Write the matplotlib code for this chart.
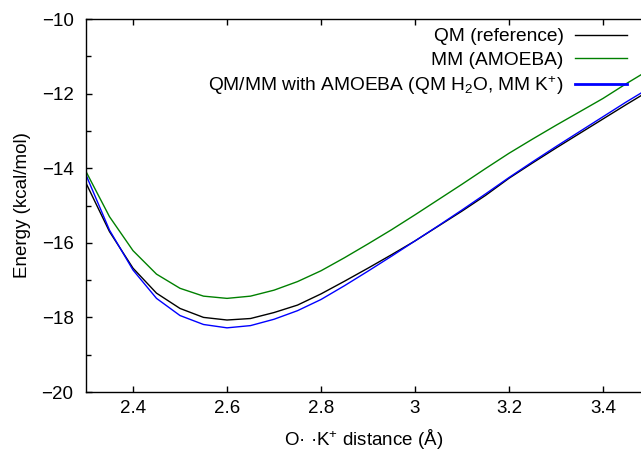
import matplotlib
matplotlib.use("Agg")
import matplotlib.pyplot as plt
from matplotlib.ticker import MultipleLocator, FuncFormatter

plt.rcParams['font.family'] = ['Liberation Sans', 'DejaVu Sans']
plt.rcParams['mathtext.fontset'] = 'custom'
plt.rcParams['mathtext.rm'] = 'Liberation Sans'
plt.rcParams['mathtext.it'] = 'Liberation Sans'
plt.rcParams['mathtext.default'] = 'regular'

distance = [2.30, 2.35, 2.40, 2.45, 2.50, 2.55, 2.60, 2.65, 2.70, 2.75, 2.80,
            2.85, 2.90, 2.95, 3.00, 3.05, 3.10, 3.15, 3.20, 3.25, 3.30, 3.35,
            3.40, 3.45, 3.50]
qm_ref = [-14.40, -15.70, -16.68, -17.35, -17.76, -18.00, -18.07, -18.03, -17.87,
          -17.67, -17.37, -17.03, -16.68, -16.32, -15.95, -15.55, -15.15, -14.73,
          -14.27, -13.86, -13.46, -13.07, -12.68, -12.29, -11.91]
mm_amoeba = [-14.09, -15.30, -16.21, -16.84, -17.22, -17.43, -17.49, -17.43, -17.27,
             -17.04, -16.75, -16.40, -16.03, -15.65, -15.25, -14.84, -14.43, -14.01,
             -13.60, -13.22, -12.85, -12.49, -12.13, -11.73, -11.35]
qmmm = [-14.18, -15.66, -16.73, -17.49, -17.95, -18.19, -18.28, -18.22, -18.05,
        -17.82, -17.52, -17.15, -16.76, -16.36, -15.95, -15.54, -15.12, -14.69,
        -14.25, -13.83, -13.42, -13.02, -12.62, -12.22, -11.84]

labels = ["QM (reference)", "MM (AMOEBA)",
          "QM/MM with AMOEBA (QM H$_2$O, MM K$^{+}$)"]
colors = ["#000000", "#008000", "#0000ff"]

FS = 13.5
W, H = 641, 450
fig = plt.figure(figsize=(W / 100, H / 100), dpi=100)
ax = fig.add_axes([86 / W, 58 / H, (650 - 86) / W, 373 / H])

for y, lab, c in zip([qm_ref, mm_amoeba, qmmm], labels, colors):
    ax.plot(distance, y, color=c, lw=1.0, label=lab)

ax.set_xlim(2.3, 3.5)
ax.set_ylim(-20, -10)
ax.xaxis.set_major_locator(MultipleLocator(0.2))
ax.yaxis.set_major_locator(MultipleLocator(2))
ax.yaxis.set_minor_locator(MultipleLocator(1))
ax.xaxis.set_major_formatter(FuncFormatter(lambda v, p: f"{v:g}"))
ax.yaxis.set_major_formatter(FuncFormatter(lambda v, p: f"{v:g}".replace("-", "\u2212")))
ax.tick_params(which='both', direction='in', top=True, right=True,
               labelsize=FS, width=1.0)
ax.tick_params(which='major', length=4.5)
ax.tick_params(which='minor', length=3.5)
ax.tick_params(axis='x', pad=6)
ax.tick_params(axis='y', pad=9)
for s in ax.spines.values():
    s.set_linewidth(1.0)

ax.set_xlabel("O\u00b7 \u00b7K$^{+}$ distance (\u00c5)", fontsize=FS, va='center')
ax.xaxis.set_label_coords((364 - 86) / 564, (392 - 439) / 373)
ax.set_ylabel("Energy (kcal/mol)", fontsize=FS, va='center')
ax.yaxis.set_label_coords((22 - 86) / 564, 0.5)

leg = ax.legend(loc='upper right', bbox_to_anchor=(627 / W, 1 - 28 / H),
                bbox_transform=fig.transFigure, frameon=False, fontsize=13.8,
                markerfirst=False, handlelength=2.7, handletextpad=0.6,
                labelspacing=0.3, borderpad=0, borderaxespad=0)
for t in leg.get_texts():
    t.set_ha('right')
leg.get_lines()[2].set_linewidth(2.0)

fig.savefig("out.png", dpi=100)
